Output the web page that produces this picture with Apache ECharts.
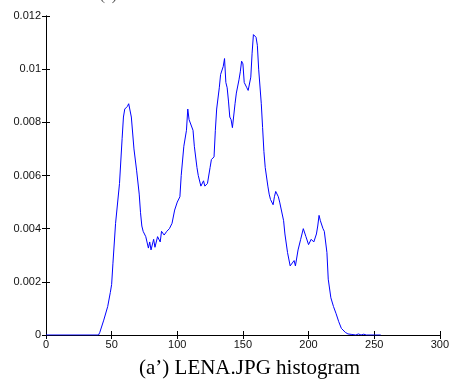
<!DOCTYPE html>
<html>
<head>
<meta charset="utf-8">
<script src="https://cdn.jsdelivr.net/npm/echarts@6/dist/echarts.min.js"></script>
<style>html,body{margin:0;padding:0;background:#fff}#c{width:452px;height:383px}</style>
</head>
<body>
<div id="c"></div>
<script>
const grayLevels = [0,40,41,44,47,49,50,51,53,56,58,59,60,61,62,63,64,65,67,69,71,72,73,74,76,78,79,80,82,83,85,87,88,90,92,94,96,98,100,102,103,105,107,108,109,110,112,113,115,116,118,119,120,121,123,125,126,128,129,130,132,133,135,136,137,138,139,140,141,142,144,145,147,148,149,150,151,153,154,156,157,158,160,161,162,164,165,166,167,169,170,171,173,174,175,177,178,179,181,182,184,186,187,189,190,192,194,195,196,198,200,202,204,206,207,208,209,211,212,214,215,217,219,221,223,225,228,230,233,236,238,240,242,244,255];
const density = [0,0,0.0001,0.00056,0.00107,0.0016,0.0019,0.0027,0.0042,0.0057,0.0074,0.0082,0.0085,0.00847,0.0086,0.0087,0.0087,0.0082,0.0070,0.0062,0.0053,0.0046,0.0041,0.0039,0.0037,0.00327,0.0035,0.0032,0.0036,0.0033,0.0037,0.0035,0.0039,0.00376,0.0039,0.0040,0.0042,0.0047,0.0050,0.0052,0.0060,0.0071,0.0077,0.0085,0.0081,0.0081,0.0077,0.0071,0.0063,0.0060,0.0056,0.0056,0.0058,0.0056,0.0057,0.0063,0.0066,0.0067,0.0077,0.0085,0.0093,0.0098,0.0101,0.0104,0.0095,0.0093,0.0088,0.0082,0.0081,0.0078,0.0087,0.0091,0.0096,0.0099,0.0103,0.0102,0.0095,0.0093,0.0092,0.0097,0.0106,0.0113,0.0112,0.0109,0.0100,0.0087,0.0078,0.0069,0.0063,0.0056,0.0053,0.0051,0.0049,0.0052,0.0054,0.0052,0.0050,0.0050,0.0043,0.0038,0.0031,0.0026,0.0026,0.0028,0.0026,0.0032,0.0036,0.0038,0.0040,0.0037,0.0034,0.0036,0.0035,0.0038,0.0041,0.0045,0.0043,0.0040,0.0039,0.0031,0.0021,0.0014,0.00107,0.0008,0.0005,0.00025,0.0001,0.00004,0.00002,0,0.00004,0,0.00003,0,0];
const xTicks = [0,50,100,150,200,250,300];
const yTicks = [0,0.002,0.004,0.006,0.008,0.01,0.012];
const captionText = "(a’) LENA.JPG histogram";
const topText = "(a)";

const chart = echarts.init(document.getElementById('c'));
const pts = grayLevels.map((g, i) => [g, density[i]]);
const lab = {color:'#111', fontFamily:'Liberation Sans, Arial, sans-serif', fontSize:11};
const baseX = {type:'value', min:xTicks[0], max:xTicks[xTicks.length-1], interval:50,
  axisLine:{show:true, lineStyle:{color:'#000', width:1}},
  axisTick:{show:true, inside:true, length:4, lineStyle:{color:'#000'}},
  splitLine:{show:false}};
const baseY = {type:'value', min:yTicks[0], max:yTicks[yTicks.length-1], interval:0.002,
  axisLine:{show:true, lineStyle:{color:'#000', width:1}},
  axisTick:{show:true, inside:true, length:4, lineStyle:{color:'#000'}},
  splitLine:{show:false}};
chart.setOption({
  animation:false,
  backgroundColor:'#fff',
  grid:{left:46, right:8, top:16, bottom:48, containLabel:false},
  xAxis:[
    Object.assign({}, baseX, {position:'bottom', axisLabel:Object.assign({margin:4}, lab)}),
    Object.assign({}, baseX, {position:'top', axisLabel:{show:false}})
  ],
  yAxis:[
    Object.assign({}, baseY, {position:'left', axisLabel:Object.assign({margin:5, formatter:v=>String(+v.toFixed(3))}, lab)}),
    Object.assign({}, baseY, {position:'right', axisLabel:{show:false}})
  ],
  series:[{type:'line', data:pts, xAxisIndex:0, yAxisIndex:0, showSymbol:false, symbol:'none',
    lineStyle:{color:'#0000ff', width:1}, smooth:false}],
  graphic:[
    {type:'text', left:139, top:358, style:{text:captionText, font:'21px "Liberation Serif", "Times New Roman", serif', fill:'#000'}},
    {type:'text', left:100, top:-11, style:{text:topText, font:'15px "Liberation Serif", "Times New Roman", serif', fill:'#555'}}
  ]
});
</script>
</body>
</html>
